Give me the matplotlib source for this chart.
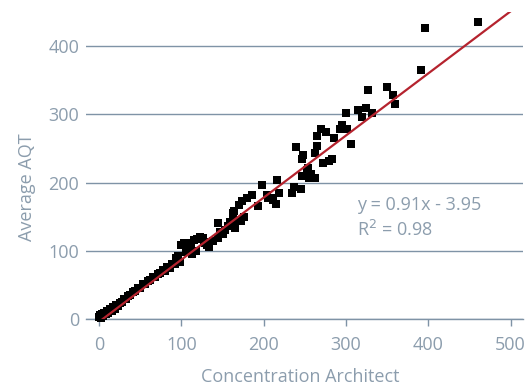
import numpy as np
import matplotlib.pyplot as plt

plt.rcParams['font.family'] = ['Open Sans', 'DejaVu Sans']

# scatter values
conc = [0, 1, 2, 3, 5, 6, 8, 10, 11, 13, 15, 17, 19, 21, 23, 25, 28, 30, 33, 35,
        38, 41, 44, 47, 50, 53, 56, 59, 62, 65, 68, 71, 74, 77, 80, 83, 86, 89, 92, 95, 98,
        100, 103, 108, 112, 115, 119, 123, 126, 129, 131, 134, 113, 118, 105, 96, 93, 110, 127,
        138, 144, 144, 150, 147, 153, 157, 159, 163, 165, 167, 172, 163, 164, 170, 173, 176,
        180, 186, 193, 198, 204, 205, 211, 215, 211, 216, 218,
        234, 237, 245, 246, 255, 252, 262, 258, 254, 272, 279, 283, 262, 248, 246, 239, 265,
        306, 265, 276, 269, 285, 293, 295, 301, 300, 314, 324, 319, 331, 327, 350, 357, 360,
        391, 396, 460]
aqt = [3, 6, 2, 8, 5, 9, 7, 12, 9, 14, 12, 17, 15, 20, 19, 24, 25, 29, 30, 34,
       35, 40, 41, 46, 46, 51, 52, 56, 57, 61, 62, 66, 67, 72, 71, 76, 75, 81, 80, 85, 83,
       108, 111, 104, 112, 116, 118, 120, 119, 112, 108, 105, 95, 100, 98, 92, 89, 110, 113,
       115, 119, 141, 125, 128, 130, 136, 142, 145, 134, 144, 144, 155, 159, 167, 173, 150,
       178, 182, 165, 196, 182, 178, 174, 169, 178, 204, 185,
       184, 194, 190, 209, 206, 218, 207, 213, 221, 228, 232, 234, 243, 241, 234, 252, 254,
       256, 268, 274, 279, 265, 279, 285, 278, 302, 306, 309, 296, 302, 335, 340, 329, 315,
       365, 427, 435]

slope = 0.91
intercept = -3.95
fit_x = [4.3, 500]
x_ticks = [0, 100, 200, 300, 400, 500]
y_ticks = [0, 100, 200, 300, 400]

grid_c = '#7f93a6'
text_c = '#8c9dad'
fs = 13

fig = plt.figure(figsize=(5.32, 3.87), dpi=100)
ax = fig.add_axes([0.1617, 0.1757, 0.8213, 0.7933])

ax.scatter(conc, aqt, marker='s', s=34, color='black', linewidths=0, zorder=3, clip_on=False)
fx = np.array(fit_x)
ax.plot(fx, slope * fx + intercept, color='#b5232e', lw=1.6, zorder=4)

ax.set_xlim(-16, 515)
ax.set_ylim(0, 450)
ax.set_xticks(x_ticks)
ax.set_yticks(y_ticks)

for s in ['top', 'right', 'left']:
    ax.spines[s].set_visible(False)
ax.spines['bottom'].set_color(grid_c)
ax.spines['bottom'].set_linewidth(1.0)
ax.yaxis.grid(True, color=grid_c, lw=1.0)
ax.set_axisbelow(True)

ax.tick_params(axis='x', direction='out', length=5, width=1, color=grid_c,
               labelcolor=text_c, labelsize=fs, pad=7)
ax.tick_params(axis='y', length=0, labelcolor=text_c, labelsize=fs, pad=5)

ax.set_xlabel('Concentration Architect', color=text_c, fontsize=fs)
ax.set_ylabel('Average AQT', color=text_c, fontsize=fs)
ax.xaxis.set_label_coords(0.49, -0.16)
ax.yaxis.set_label_coords(-0.115, 0.43)

ax.text(313, 148, 'y = 0.91x - 3.95\nR$^2$ = 0.98', color=text_c, fontsize=fs,
        va='center', ha='left', linespacing=1.4)

fig.savefig('out.png', dpi=100)
